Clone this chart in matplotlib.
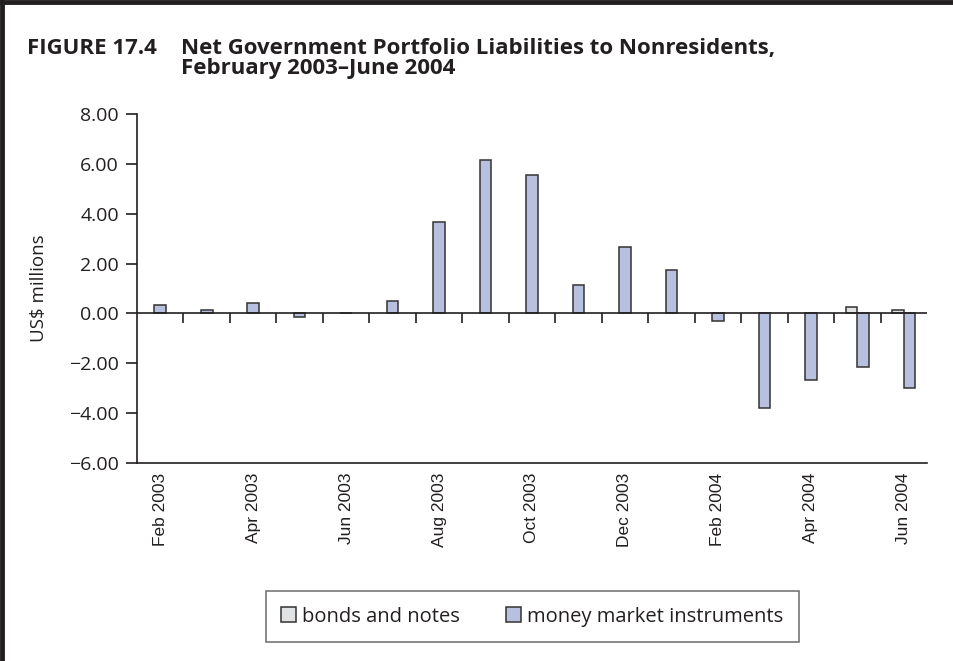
import matplotlib
matplotlib.use("Agg")
import matplotlib.pyplot as plt
from matplotlib.lines import Line2D
from matplotlib.patches import Patch
import numpy as np

# data (US$ millions)
months = ["Feb 2003", "Mar 2003", "Apr 2003", "May 2003", "Jun 2003", "Jul 2003",
          "Aug 2003", "Sep 2003", "Oct 2003", "Nov 2003", "Dec 2003", "Jan 2004",
          "Feb 2004", "Mar 2004", "Apr 2004", "May 2004", "Jun 2004"]
money_market = [0.32, 0.15, 0.43, -0.13, 0.0, 0.49, 3.65, 6.16, 5.56, 1.15, 2.65, 1.73,
                -0.31, -3.79, -2.65, -2.13, -2.98]
bonds_notes = [0, 0, 0, 0, 0, 0, 0, 0, 0, 0, 0, 0, 0, 0, 0, 0.27, 0.14]
y_ticks = [-6, -4, -2, 0, 2, 4, 6, 8]

money_color = '#B8C0DF'
bonds_color = '#E1E2E4'
edge = '#333333'
dark = '#231F20'
sans = ['Open Sans', 'DejaVu Sans']
arial = ['Liberation Sans', 'DejaVu Sans']

fig = plt.figure(figsize=(9.54, 6.61), dpi=100)
ax = fig.add_axes([0.1436, 0.2995, 0.8281, 0.528])

x = np.arange(len(months))
money = np.array(money_market)
bonds = np.array(bonds_notes)
w = 0.25
shift = np.where(bonds != 0, w / 2, 0)
has_bonds = bonds != 0

ax.bar(x[has_bonds] - w / 2, bonds[has_bonds], width=w, color=bonds_color,
       edgecolor=edge, linewidth=1.1, zorder=3)
ax.bar(x + shift, money, width=w, color=money_color, edgecolor=edge,
       linewidth=1.1, zorder=3)

ax.set_xlim(-0.5, len(months) - 0.5)
ax.set_ylim(-6, 8)

# zero axis with category separators
ax.axhline(0, color=dark, lw=1.2, zorder=4)
ax.vlines(x[:-1] + 0.5, -0.4, 0, color=dark, lw=1.2, zorder=4)

ax.set_yticks(y_ticks)
ax.set_yticklabels([f"{v:.2f}".replace('-', '\u2212') for v in y_ticks],
                   family=sans, fontsize=14, color=dark)
ax.tick_params(axis='y', direction='out', length=8, width=1.2, color=dark, pad=5)

ax.set_xticks(x[::2])
ax.set_xticklabels(months[::2], rotation=90, family=arial, fontsize=12.5,
                   color=dark, va='top')
ax.tick_params(axis='x', length=0, pad=7)

for s in ['top', 'right']:
    ax.spines[s].set_visible(False)
for s in ['left', 'bottom']:
    ax.spines[s].set_color(dark)
    ax.spines[s].set_linewidth(1.2)

ax.set_ylabel('US$ millions', family=sans, fontsize=13.5, color=dark, labelpad=15)

# title
fig.text(0.028, 0.943, 'FIGURE 17.4', family=sans, fontweight='bold',
         fontsize=16, color=dark, va='top', ha='left')
fig.text(0.19, 0.943, 'Net Government Portfolio Liabilities to Nonresidents,\nFebruary 2003\u2013June 2004',
         family=sans, fontweight='bold', fontsize=16, color=dark, va='top',
         ha='left', linespacing=0.95)

# legend
handles = [Patch(facecolor=bonds_color, edgecolor=edge, linewidth=1.1),
           Patch(facecolor=money_color, edgecolor=edge, linewidth=1.1)]
leg = fig.legend(handles, ['bonds and notes', 'money market instruments'],
                 loc='center', bbox_to_anchor=(0.5577, 0.0673), ncol=2,
                 frameon=True, fancybox=False, prop={'family': sans, 'size': 14.5},
                 handlelength=0.75, handleheight=0.75, handletextpad=0.3,
                 columnspacing=2.3, borderpad=0.75, borderaxespad=0)
leg.get_frame().set_edgecolor('#555555')
leg.get_frame().set_linewidth(1.2)
for t in leg.get_texts():
    t.set_color(dark)

# page frame: top and left rule
fig.add_artist(Line2D([0, 1], [0.997, 0.997], transform=fig.transFigure,
                      color=dark, lw=3.5))
fig.add_artist(Line2D([0.002, 0.002], [0, 1], transform=fig.transFigure,
                      color=dark, lw=3.5))

fig.savefig('out.png', dpi=100)
